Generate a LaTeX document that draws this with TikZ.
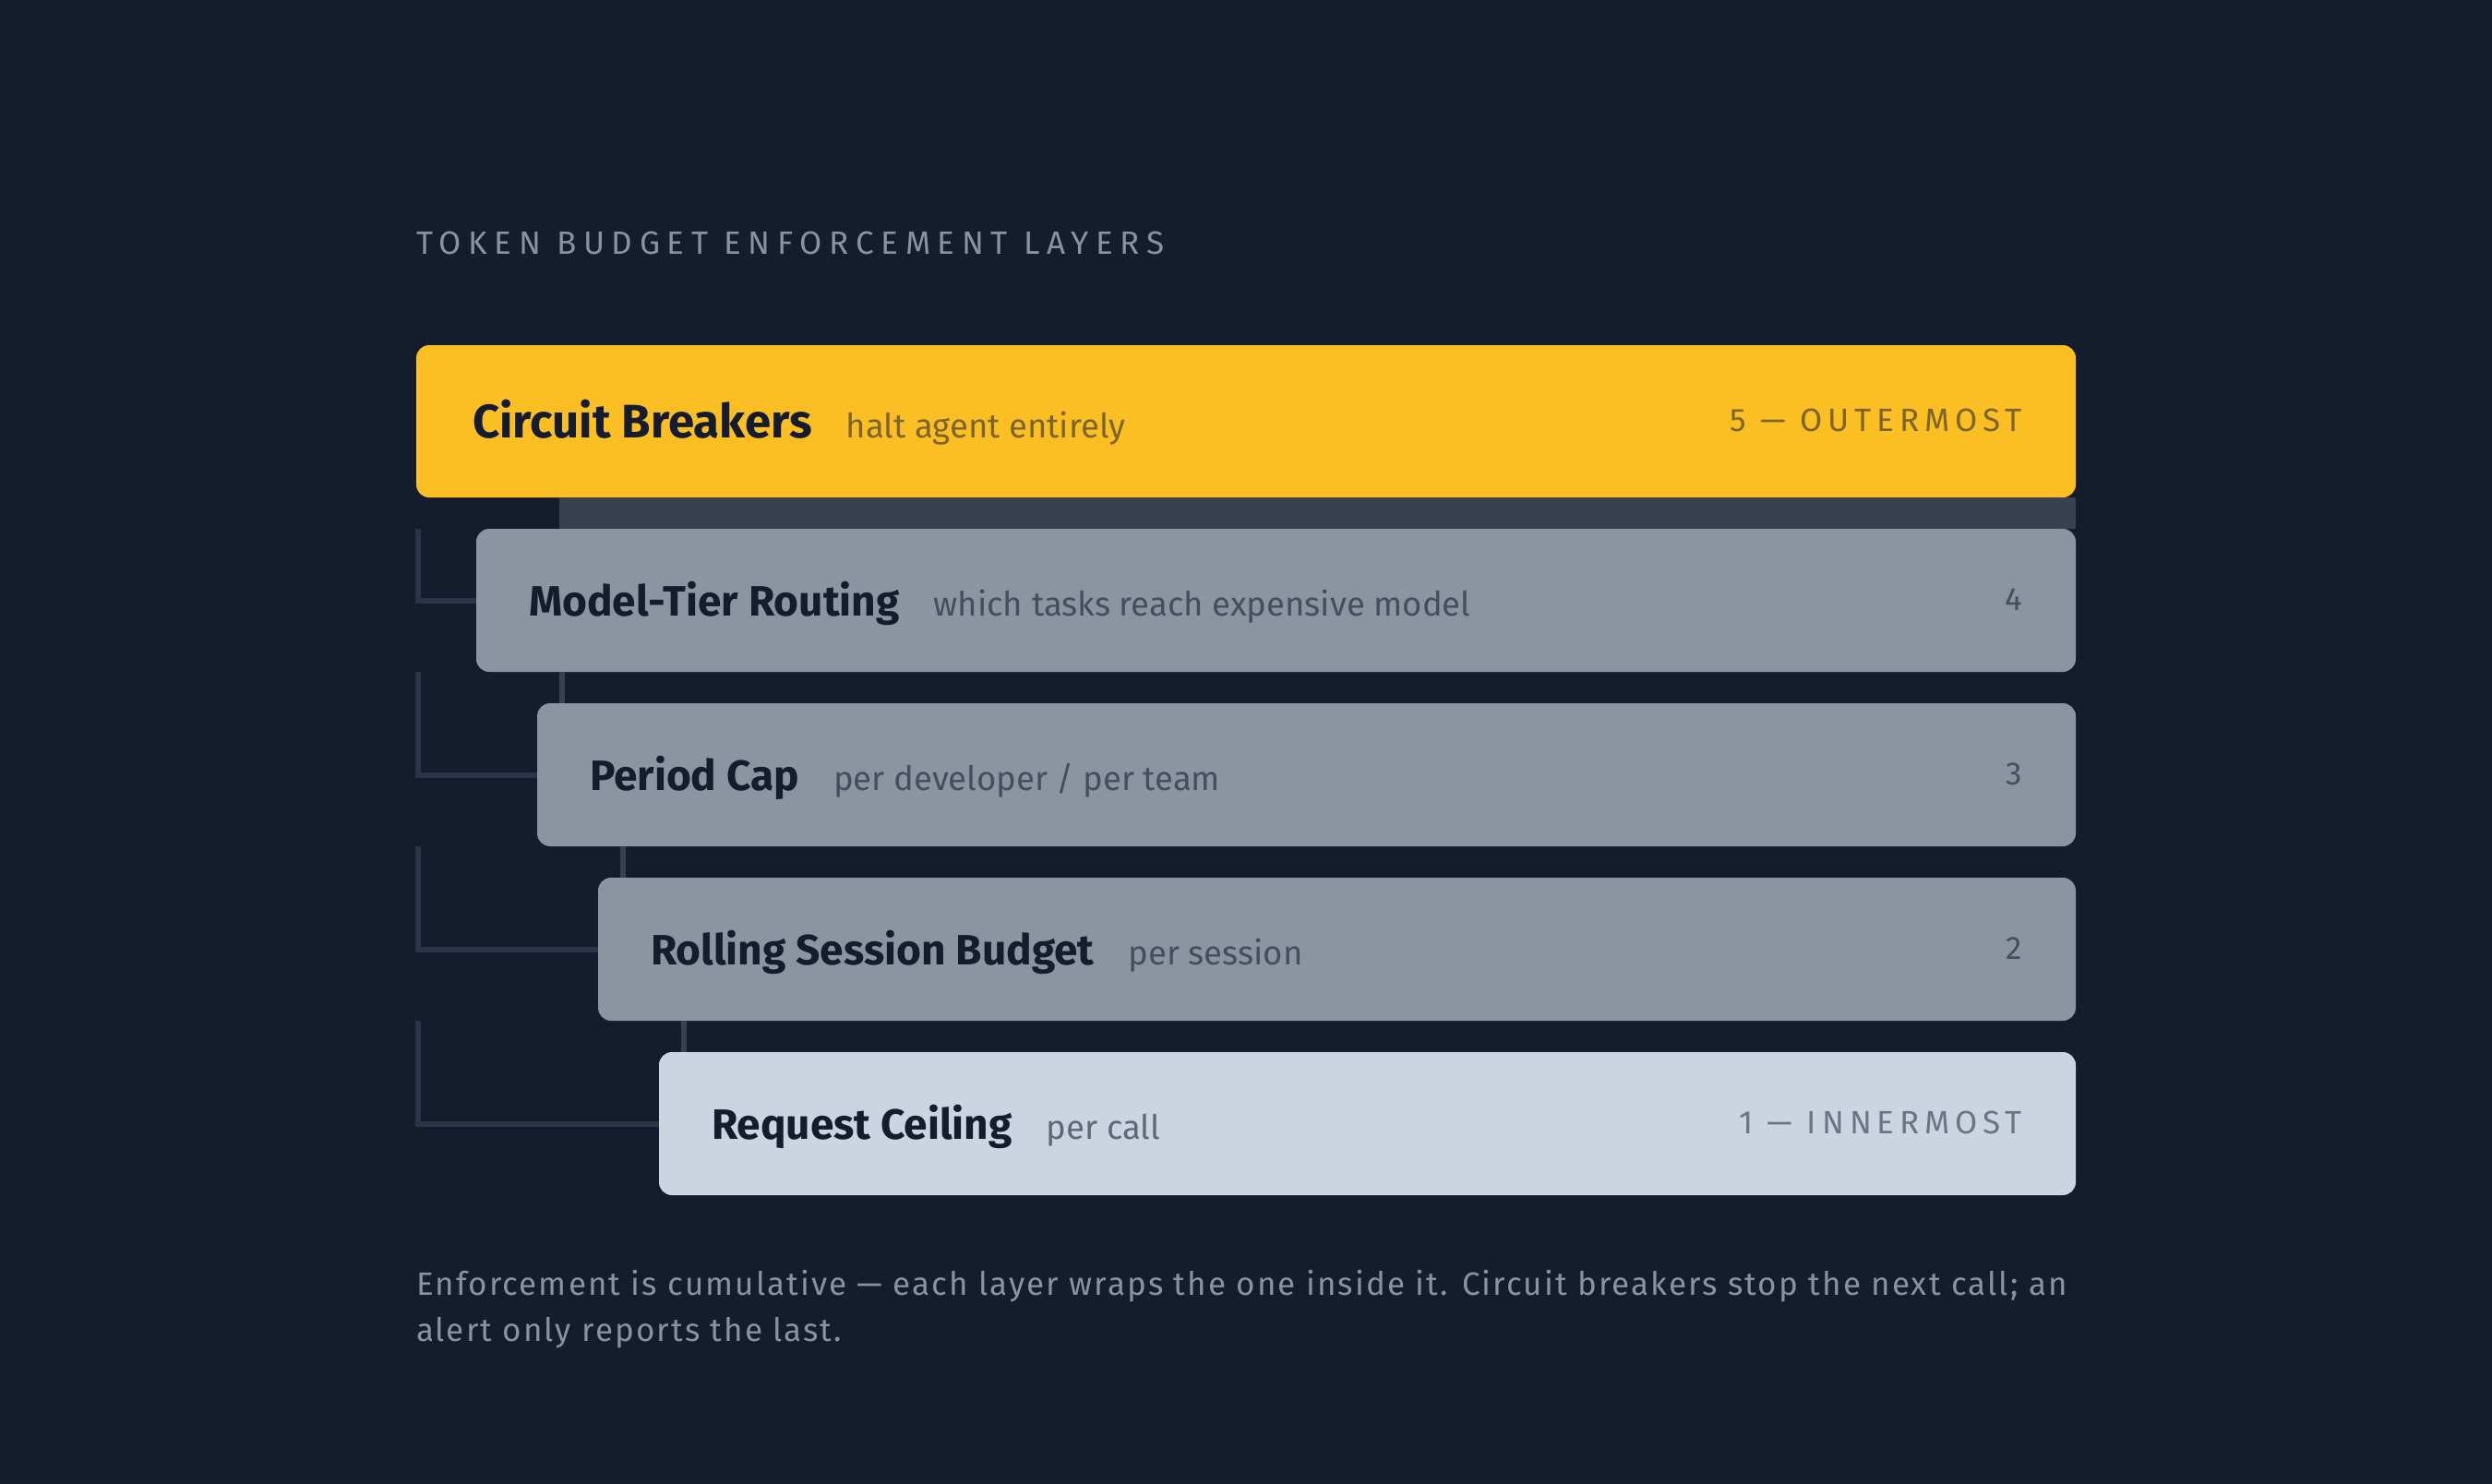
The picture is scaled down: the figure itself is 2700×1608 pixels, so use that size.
\documentclass[tikz,border=0pt]{standalone}
\usepackage{fontspec}
\setmainfont{Fira Sans}
\newfontfamily\spacedfont[LetterSpace=22]{Fira Sans}
\newfontfamily\tagfont[LetterSpace=17]{Fira Sans}
\newfontfamily\notefont[LetterSpace=6]{Fira Sans}
\usetikzlibrary{positioning,calc}
\definecolor{bgcol}{HTML}{141C2E}
\definecolor{amber}{HTML}{FBBF24}
\definecolor{midgray}{HTML}{8B95A1}
\definecolor{innergray}{HTML}{CBD5E1}
\definecolor{stripcol}{HTML}{374151}
\definecolor{wirecol}{HTML}{2B3446}
\definecolor{ink}{HTML}{141C2E}
\definecolor{ambersub}{HTML}{7C652A}
\definecolor{midsub}{HTML}{454E5E}
\definecolor{innersub}{HTML}{5E6878}
\definecolor{innertag}{HTML}{6B7585}
\definecolor{mutedtext}{HTML}{8792A2}

\begin{document}
\begin{tikzpicture}[x=1pt,y=-1pt,
	every node/.style={inner sep=0pt,outer sep=0pt},
	layer/.style={rounded corners=14pt,anchor=north west,minimum height=155pt},
	head/.style={text=ink,font=\fontsize{46}{46}\selectfont\bfseries},
	desc/.style={font=\fontsize{36.5}{36.5}\selectfont},
	tag/.style={font=\tagfont\fontsize{35}{35}\selectfont},
	wire/.style={draw=wirecol,line width=6pt},
	stub/.style={draw=stripcol,line width=6pt},
	]
	
	% the canvas
	\useasboundingbox (0,0) rectangle (2700,1608);
	\fill[bgcol] (0,0) rectangle (2700,1608);
	
	% the title
	\node[anchor=base west,text=mutedtext,font=\spacedfont\fontsize{35}{35}\selectfont] (title) at (451,275) {TOKEN BUDGET ENFORCEMENT LAYERS};
	
	% the outermost layer
	\node[layer,fill=amber,minimum width=1798pt,minimum height=165pt] (l5) at (451,374) {};
	\node[head,font=\fontsize{51}{51}\selectfont\bfseries,anchor=base west] (h5) at ($(l5.west)+(61,18)$) {Circuit Breakers};
	\node[desc,text=ambersub,base right=37pt of h5] (d5) {halt agent entirely};
	\node[tag,text=ambersub,anchor=base east] (t5) at ($(l5.east)+(-58,11)$) {5 — OUTERMOST};
	
	% the inner layers
	\foreach \i/\x/\y/\col/\sub/\tagcol/\head/\desc/\tag in {
		4/516/573/midgray/midsub/midsub/Model-Tier Routing/which tasks reach expensive model/4,
		3/582/762/midgray/midsub/midsub/Period Cap/{per developer / per team}/3,
		2/648/951/midgray/midsub/midsub/Rolling Session Budget/per session/2,
		1/714/1140/innergray/innersub/innertag/Request Ceiling/per call/1 — INNERMOST}
	{
	\pgfmathsetmacro\w{2249-\x}
	\node[layer,fill=\col,minimum width=\w pt] (l\i) at (\x,\y) {};
	\node[head,anchor=base west] (h\i) at ($(l\i.west)+(57,17)$) {\head};
	\node[desc,text=\sub,base right=37pt of h\i] (d\i) {\desc};
	\node[tag,text=\tagcol,anchor=base east] (t\i) at ($(l\i.east)+(-58,11)$) {\tag};
	}
	
	% the strip and stubs between layers
	\fill[stripcol] ($(l5.south west)+(155,0)$) rectangle (l4.north east);
	\foreach \i/\j in {4/3,3/2,2/1}
	\draw[stub] ($(l\j.north west)+(27,0)$) -- ($(l\j.north west |- l\i.south)+(27,0)$);
	
	% the brackets
	\draw[wire] ($(l5.west |- l4.north)+(2,0)$) |- (l4.west);
	\foreach \i/\j in {4/3,3/2,2/1}
	\draw[wire] ($(l5.west |- l\i.south)+(2,0)$) |- (l\j.west);
	
	% the note
	\node[anchor=base west,align=left,text=mutedtext,font=\notefont\fontsize{35}{50}\selectfont] (note) at (451,1453) {Enforcement is cumulative — each layer wraps the one inside it. Circuit breakers stop the next call; an\\alert only reports the last.};
\end{tikzpicture}
\end{document}
